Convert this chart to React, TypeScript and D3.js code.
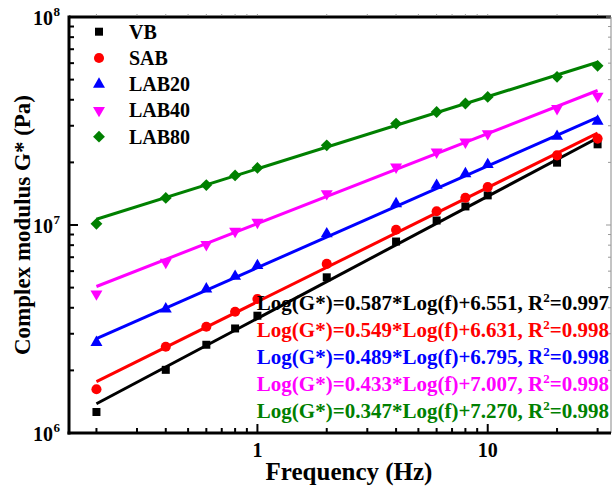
import * as d3 from "d3";

const W = 612;
const H = 492;
const MARGIN = { top: 17, right: 1, bottom: 59, left: 69 };

const FREQS = [0.2, 0.4, 0.6, 0.8, 1, 2, 4, 6, 8, 10, 20, 30];

const VB = [1.262e6, 2.012e6, 2.656e6, 3.181e6, 3.664e6, 5.604e6, 8.328e6, 1.051e7, 1.228e7, 1.388e7, 1.994e7, 2.443e7];
const SAB = [1.624e6, 2.597e6, 3.241e6, 3.83e6, 4.41e6, 6.501e6, 9.482e6, 1.165e7, 1.352e7, 1.521e7, 2.162e7, 2.603e7];
const LAB20 = [2.724e6, 3.946e6, 4.926e6, 5.667e6, 6.38e6, 9.07e6, 1.266e7, 1.55e7, 1.765e7, 1.951e7, 2.67e7, 3.154e7];
const LAB40 = [4.661e6, 6.618e6, 8.054e6, 9.335e6, 1.031e7, 1.414e7, 1.899e7, 2.243e7, 2.506e7, 2.751e7, 3.631e7, 4.163e7];
const LAB80 = [1.013e7, 1.349e7, 1.555e7, 1.732e7, 1.882e7, 2.416e7, 3.074e7, 3.495e7, 3.838e7, 4.13e7, 5.156e7, 5.825e7];

const NAMES = ["VB", "SAB", "LAB20", "LAB40", "LAB80"];
const COLORS = ["#000000", "#ff0000", "#0000ff", "#ff00ff", "#008000"];
const SLOPES = [0.587, 0.549, 0.489, 0.433, 0.347];
const INTERCEPTS = [6.551, 6.631, 6.795, 7.007, 7.27];
const R2 = ["0.997", "0.998", "0.998", "0.998", "0.998"];

const SERIES = [VB, SAB, LAB20, LAB40, LAB80];

const FONT = "'Liberation Serif', 'Times New Roman', serif";

const symbolPath = (i: number) => {
  switch (i) {
    case 0:
      return { d: d3.symbol(d3.symbolSquare, 64)() as string, rot: 0 };
    case 1:
      return { d: d3.symbol(d3.symbolCircle, 80)() as string, rot: 0 };
    case 2:
      return { d: d3.symbol(d3.symbolTriangle, 62)() as string, rot: 0 };
    case 3:
      return { d: d3.symbol(d3.symbolTriangle, 62)() as string, rot: 180 };
    default:
      return { d: d3.symbol(d3.symbolSquare, 70)() as string, rot: 45 };
  }
};

export default function App() {
  const x0 = MARGIN.left;
  const x1 = W - MARGIN.right;
  const y0 = MARGIN.top;
  const y1 = H - MARGIN.bottom;

  const xScale = d3.scaleLog().domain([0.152, 34.3]).range([x0, x1]);
  const yScale = d3.scaleLog().domain([1e6, 1e8]).range([y1, y0]);

  const xTicks = xScale.ticks();
  const yTicks = yScale.ticks();
  const isMajor = (v: number) => Math.abs(Math.log10(v) - Math.round(Math.log10(v))) < 1e-9;

  const line = d3
    .line<[number, number]>()
    .x((d) => xScale(d[0]))
    .y((d) => yScale(d[1]));

  // fitted power-law lines, from the equations printed on the chart
  const fitLine = (i: number) => {
    const fs = [FREQS[0], FREQS[FREQS.length - 1]];
    return line(fs.map((f) => [f, Math.pow(10, INTERCEPTS[i] + SLOPES[i] * Math.log10(f))]));
  };

  return (
    <svg width={W} height={H} style={{ position: "absolute", left: 0, top: 0, background: "#fff" }} fontFamily={FONT}>
      {/* top & right frame with small ticks */}
      <line x1={x0} x2={x1} y1={y0} y2={y0} stroke="#000" strokeWidth={3} />
      <line x1={x1} x2={x1} y1={y0} y2={y1} stroke="#888" strokeWidth={1} />
      {xTicks.map((t) => (
        <line key={`tt${t}`} x1={xScale(t)} x2={xScale(t)} y1={y0 - 1.5} y2={y0 - 3} stroke="#999" strokeWidth={1} />
      ))}
      {yTicks.map((t) => (
        <line key={`rt${t}`} x1={x1} x2={x1 - (isMajor(t) ? 5 : 3)} y1={yScale(t)} y2={yScale(t)} stroke="#999" strokeWidth={1} />
      ))}

      {/* fit lines */}
      {SERIES.map((_, i) => (
        <path key={`fit${i}`} d={fitLine(i) as string} fill="none" stroke={COLORS[i]} strokeWidth={3} />
      ))}

      {/* points */}
      {SERIES.map((vals, i) => {
        const s = symbolPath(i);
        return (
          <g key={`pts${i}`} fill={COLORS[i]}>
            {vals.map((v, j) => (
              <path
                key={j}
                d={s.d}
                transform={`translate(${xScale(FREQS[j])},${yScale(v)}) rotate(${s.rot})`}
              />
            ))}
          </g>
        );
      })}

      {/* left & bottom axes */}
      <line x1={x0} x2={x0} y1={y0 - 1.5} y2={y1 + 1.5} stroke="#000" strokeWidth={3} />
      <line x1={x0 - 1.5} x2={x1} y1={y1} y2={y1} stroke="#000" strokeWidth={3} />
      {xTicks.map((t) => (
        <line
          key={`bx${t}`}
          x1={xScale(t)}
          x2={xScale(t)}
          y1={y1}
          y2={y1 - (isMajor(t) ? 9 : 5)}
          stroke="#000"
          strokeWidth={2}
        />
      ))}
      {yTicks.map((t) => (
        <line
          key={`ly${t}`}
          x1={x0}
          x2={x0 + (isMajor(t) ? 9 : 5)}
          y1={yScale(t)}
          y2={yScale(t)}
          stroke="#000"
          strokeWidth={2}
        />
      ))}

      {/* tick labels */}
      {xTicks.filter(isMajor).map((t) => (
        <text key={`xl${t}`} x={xScale(t)} y={457} textAnchor="middle" fontSize={20} fontWeight="bold">
          {t}
        </text>
      ))}
      {yTicks.filter(isMajor).map((t) => (
        <text key={`yl${t}`} x={53} y={yScale(t) + 8} textAnchor="end" fontSize={20} fontWeight="bold">
          10
          <tspan x={53.5} dy={-9} fontSize={13} textAnchor="start">
            {Math.round(Math.log10(t))}
          </tspan>
        </text>
      ))}

      {/* axis titles */}
      <text x={349} y={480} textAnchor="middle" fontSize={25} fontWeight="bold">
        Frequency (Hz)
      </text>
      <text
        transform={`translate(30,225) rotate(-90)`}
        textAnchor="middle"
        fontSize={23}
        fontWeight="bold"
      >
        Complex modulus G* (Pa)
      </text>

      {/* legend */}
      {NAMES.map((n, i) => {
        const s = symbolPath(i);
        const cy = 31.7 + i * 26.25;
        return (
          <g key={`lg${n}`}>
            <path d={s.d} fill={COLORS[i]} transform={`translate(99,${cy}) rotate(${s.rot})`} />
            <text x={129} y={cy + 7} fontSize={20} fontWeight="bold">
              {n}
            </text>
          </g>
        );
      })}

      {/* equations */}
      {NAMES.map((n, i) => (
        <text
          key={`eq${n}`}
          x={609}
          y={310 + i * 27}
          textAnchor="end"
          fontSize={21}
          fontWeight="bold"
          fill={COLORS[i]}
        >
          {`Log(G*)=${SLOPES[i].toFixed(3)}*Log(f)+${INTERCEPTS[i].toFixed(3)}, R`}
          <tspan dy={-8} fontSize={13}>2</tspan>
          <tspan dy={8}>{`=${R2[i]}`}</tspan>
        </text>
      ))}
    </svg>
  );
}
